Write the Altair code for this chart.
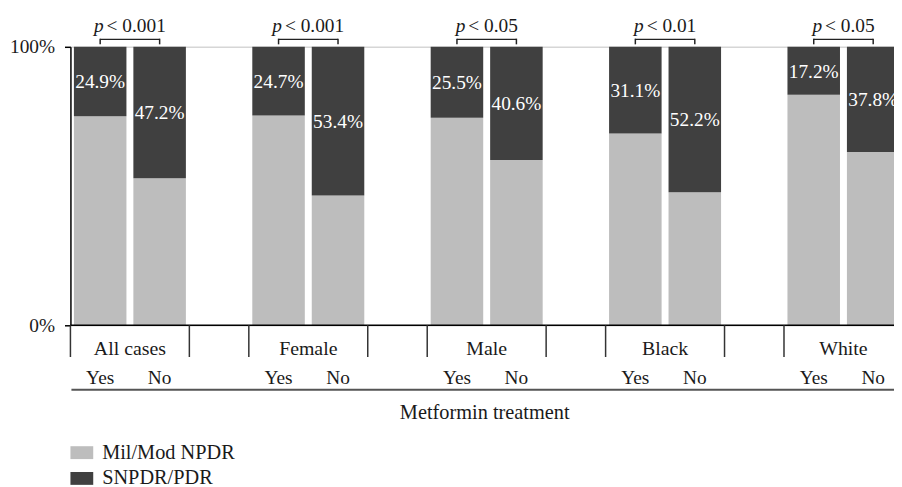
import altair as alt
import pandas as pd

# ---- data ----
groups = ["All cases", "Female", "Male", "Black", "White"]
treatments = ["Yes", "No"]
severe_yes = [24.9, 24.7, 25.5, 31.1, 17.2]   # SNPDR/PDR share, metformin = Yes
severe_no = [47.2, 53.4, 40.6, 52.2, 37.8]    # SNPDR/PDR share, metformin = No
p_labels = ["< 0.001", "< 0.001", "< 0.05", "< 0.01", "< 0.05"]
categories = ["Mil/Mod NPDR", "SNPDR/PDR"]
colors = ["#bdbdbd", "#404040"]
axis_title = "Metformin treatment"

# ---- tables built from the arrays ----
slots = []
for g in groups:
    slots += [f"{g}|Yes", f"{g}|No", f"{g}|gap"]

bar_rows, label_rows = [], []
for g, sy, sn in zip(groups, severe_yes, severe_no):
    for t, s in zip(treatments, (sy, sn)):
        slot = f"{g}|{t}"
        bar_rows.append({"slot": slot, "category": categories[0], "value": round(100 - s, 1), "ord": 0})
        bar_rows.append({"slot": slot, "category": categories[1], "value": s, "ord": 1})
        label_rows.append({"slot": slot, "group": g, "treatment": t, "severe": s})
bars_df = pd.DataFrame(bar_rows)
labels_df = pd.DataFrame(label_rows)
groups_df = pd.DataFrame({
    "group": groups,
    "yes_slot": [f"{g}|Yes" for g in groups],
    "no_slot": [f"{g}|No" for g in groups],
    "p": p_labels,
})
one_df = pd.DataFrame({"t": [axis_title]})

FONT = "Liberation Serif"
FS = 19.5
INK = "#1a1a1a"

x_scale = alt.Scale(domain=slots, range=[0, 900], paddingInner=0, paddingOuter=0)
y_scale = alt.Scale(domain=[0, 1])
y_axis = alt.Axis(values=[0, 1], format="%", title=None, domainColor="#000", domainWidth=1.5,
                  tickColor="#000", tickSize=6, tickWidth=1.5, labelFont=FONT, labelFontSize=FS,
                  labelColor=INK, labelPadding=10, grid=True, gridColor="#d6d6d6", gridWidth=1.5)


def X(field, **kw):
    return alt.X(field, scale=x_scale, axis=None, **kw)


bars = alt.Chart(bars_df).mark_bar(width=alt.RelativeBandSize(53 / 60)).encode(
    x=X("slot:N"),
    y=alt.Y("value:Q", stack="normalize", scale=y_scale, axis=y_axis),
    color=alt.Color("category:N", scale=alt.Scale(domain=categories, range=colors),
                    legend=alt.Legend(title=None, orient="none", legendX=0, legendY=398,
                                      direction="vertical", symbolType="M-1,-0.565H1V0.565H-1Z",
                                      symbolSize=529, symbolStrokeWidth=0, labelFont=FONT,
                                      labelFontSize=20.5, labelColor=INK, labelOffset=9, rowPadding=4)),
    order=alt.Order("ord:Q"),
)

pct = alt.Chart(labels_df).transform_calculate(
    mid="1 - datum.severe / 200", txt="format(datum.severe, '.1f') + '%'"
).mark_text(font=FONT, fontSize=FS, color="white", baseline="middle", dy=1).encode(
    x=X("slot:N"), y=alt.Y("mid:Q", scale=y_scale, axis=y_axis), text="txt:N"
)

zero_line = alt.Chart(one_df).mark_rule(color="#000", strokeWidth=1.5).encode(
    x=alt.value(0), x2=alt.value(900), y=alt.value(281)
)

sep_left = alt.Chart(labels_df).transform_filter("datum.treatment == 'Yes'").mark_rule(
    color="#333", strokeWidth=1.5).encode(
    x=X("slot:N", bandPosition=0), y=alt.value(281), y2=alt.value(313))
sep_right = alt.Chart(labels_df).transform_filter("datum.treatment == 'No'").mark_rule(
    color="#333", strokeWidth=1.5).encode(
    x=X("slot:N", bandPosition=1), y=alt.value(281), y2=alt.value(313))

grp_text = alt.Chart(groups_df).mark_text(font=FONT, fontSize=20, color=INK).encode(
    x=X("yes_slot:N", bandPosition=1), y=alt.value(310.5), text="group:N")

trt_text = alt.Chart(labels_df).mark_text(font=FONT, fontSize=FS, color=INK).encode(
    x=X("slot:N"), y=alt.value(340), text="treatment:N")

bottom_line = alt.Chart(one_df).mark_rule(color="#555", strokeWidth=2).encode(
    x=alt.value(1), x2=alt.value(900), y=alt.value(346))

title_text = alt.Chart(one_df).mark_text(font=FONT, fontSize=20.5, color=INK).encode(
    x=alt.value(418), y=alt.value(376), text="t:N")

bracket = alt.Chart(groups_df).mark_rule(color="#222", strokeWidth=1.5).encode(
    x=X("yes_slot:N"), x2="no_slot:N", y=alt.value(-7.5))
bracket_ticks = alt.Chart(labels_df).mark_rule(color="#222", strokeWidth=1.5).encode(
    x=X("slot:N"), y=alt.value(-8.2), y2=alt.value(-2.5))

long_f = "length(datum.p) > 6"
short_f = "length(datum.p) <= 6"
p_long_i = alt.Chart(groups_df).transform_filter(long_f).mark_text(
    font=FONT, fontSize=FS, fontStyle="italic", color=INK, align="right", dx=-26.5).encode(
    x=X("yes_slot:N", bandPosition=1), y=alt.value(-15), text=alt.value("p"))
p_long_r = alt.Chart(groups_df).transform_filter(long_f).mark_text(
    font=FONT, fontSize=FS, color=INK, align="left", dx=-23.5).encode(
    x=X("yes_slot:N", bandPosition=1), y=alt.value(-15), text="p:N")
p_short_i = alt.Chart(groups_df).transform_filter(short_f).mark_text(
    font=FONT, fontSize=FS, fontStyle="italic", color=INK, align="right", dx=-21.5).encode(
    x=X("yes_slot:N", bandPosition=1), y=alt.value(-15), text=alt.value("p"))
p_short_r = alt.Chart(groups_df).transform_filter(short_f).mark_text(
    font=FONT, fontSize=FS, color=INK, align="left", dx=-18.5).encode(
    x=X("yes_slot:N", bandPosition=1), y=alt.value(-15), text="p:N")

chart = alt.layer(
    bars, pct, zero_line, sep_left, sep_right, grp_text, trt_text, bottom_line, title_text,
    bracket, bracket_ticks, p_long_i, p_long_r, p_short_i, p_short_r,
).properties(
    width=831, height=281,
    autosize=alt.AutoSizeParams(type="none"),
    padding={"left": 63, "top": 37, "right": 0, "bottom": 161},
    background="white",
).configure_view(stroke=None).configure_text(baseline="alphabetic")

chart.save("out.html", embed_options={"renderer": "svg", "actions": False})
